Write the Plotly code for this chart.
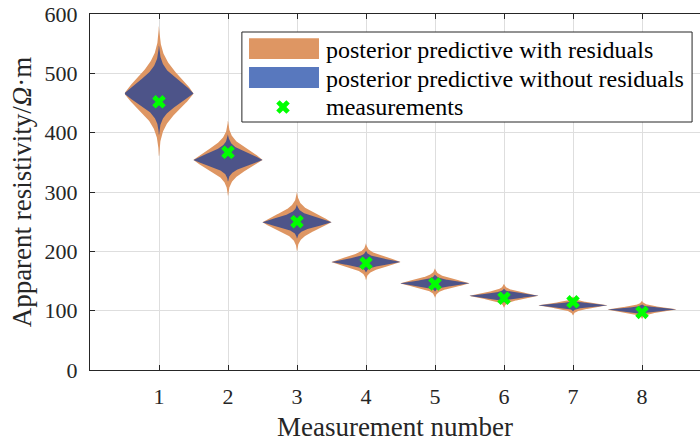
import numpy as np
import plotly.graph_objects as go

# ---------------- data ----------------
measurement_no = [1, 2, 3, 4, 5, 6, 7, 8]
mode_values = [466, 354, 249, 182, 146, 125, 109, 102]          # widest point of violins
resid_spread_up = [38, 22, 17, 10.5, 8.5, 6.8, 5.0, 4.9]         # with residuals, upper spread
resid_spread_down = [35, 20, 16, 10.0, 8.0, 6.6, 5.6, 5.2]      # with residuals, lower spread
noresid_spread_up = [27, 14.5, 10, 6.3, 5.0, 4.0, 3.0, 2.9]      # without residuals, upper spread
noresid_spread_down = [23, 12, 9, 5.8, 4.6, 3.7, 3.3, 3.1]       # without residuals, lower spread
measurements = [452, 367, 250, 180, 145, 121, 115, 97]

legend_labels = ["posterior predictive with residuals",
                 "posterior predictive without residuals",
                 "measurements"]

ORANGE = "rgb(222,150,99)"
BLUE = "rgba(2,50,156,0.66)"
GREEN = "#00FF00"
AXIS = "#262626"
GRID = "#DEDEDE"
FONT = "Liberation Serif"


def violin_outline(xc, c, s_up, s_dn, half_width=0.5, umax=3.0, n=90):
    u = np.linspace(0, umax, n)
    f = np.exp(-(0.35 * u + 0.45 * u ** 2)) * half_width
    ys = np.concatenate([(c - u * s_dn)[::-1], (c + u * s_up)[1:]])
    ws = np.concatenate([f[::-1], f[1:]])
    x = np.concatenate([xc + ws, (xc - ws)[::-1]])
    y = np.concatenate([ys, ys[::-1]])
    return x, y


fig = go.Figure()

for i, xc in enumerate(measurement_no):
    x, y = violin_outline(xc, mode_values[i], resid_spread_up[i], resid_spread_down[i])
    fig.add_trace(go.Scatter(x=x, y=y, fill="toself", fillcolor=ORANGE, mode="lines",
                             line=dict(width=0), showlegend=False, hoverinfo="skip"))
for i, xc in enumerate(measurement_no):
    x, y = violin_outline(xc, mode_values[i], noresid_spread_up[i], noresid_spread_down[i])
    fig.add_trace(go.Scatter(x=x, y=y, fill="toself", fillcolor=BLUE, mode="lines",
                             line=dict(width=0), showlegend=False, hoverinfo="skip"))

fig.add_trace(go.Scatter(x=measurement_no, y=measurements, mode="markers",
                         marker=dict(symbol="x", size=12, color=GREEN, line=dict(width=0)),
                         showlegend=False))

# ---------------- manual legend on an overlay axis (0..1) ----------------
box_x = [0.249, 0.987]
box_y = [0.6966, 0.9494]
fig.add_trace(go.Scatter(x=[box_x[0], box_x[1], box_x[1], box_x[0], box_x[0]],
                         y=[box_y[0], box_y[0], box_y[1], box_y[1], box_y[0]],
                         fill="toself", fillcolor="white", mode="lines",
                         line=dict(color=AXIS, width=1), xaxis="x2", yaxis="y2",
                         showlegend=False, hoverinfo="skip"))
sw_x = [0.2607, 0.3754]
for (y0, y1), col in [((0.8736, 0.9317), ORANGE), ((0.7921, 0.8511), BLUE)]:
    fig.add_trace(go.Scatter(x=[sw_x[0], sw_x[1], sw_x[1], sw_x[0], sw_x[0]],
                             y=[y0, y0, y1, y1, y0], fill="toself", fillcolor=col,
                             mode="lines", line=dict(width=0), xaxis="x2", yaxis="y2",
                             showlegend=False, hoverinfo="skip"))
fig.add_trace(go.Scatter(x=[0.3164], y=[0.7388], mode="markers",
                         marker=dict(symbol="x", size=12, color=GREEN, line=dict(width=0)),
                         xaxis="x2", yaxis="y2", showlegend=False, hoverinfo="skip"))
for txt, yy in zip(legend_labels, [0.8989, 0.8174, 0.7388]):
    fig.add_annotation(x=0.3836, y=yy, xref="paper", yref="paper", text=txt,
                       showarrow=False, xanchor="left", yanchor="middle",
                       font=dict(family=FONT, size=24, color="black"))

fig.update_layout(
    width=700, height=442,
    margin=dict(l=90, r=0, t=14, b=72),
    paper_bgcolor="white", plot_bgcolor="white",
    font=dict(family=FONT, color=AXIS),
    showlegend=False,
    xaxis=dict(range=[0, 610 / 69], tickvals=measurement_no, ticks="inside", ticklen=5,
               tickcolor=AXIS, showline=True, linecolor=AXIS, linewidth=1, mirror="ticks",
               showgrid=True, gridcolor=GRID, gridwidth=1, zeroline=False,
               ticklabelstandoff=7,
               tickfont=dict(size=22, family=FONT, color=AXIS),
               title=dict(text="Measurement number", font=dict(size=27, family=FONT, color=AXIS),
                          standoff=12)),
    yaxis=dict(range=[0, 600], dtick=100, ticks="inside", ticklen=5, tickcolor=AXIS,
               showline=True, linecolor=AXIS, linewidth=1, mirror=False,
               showgrid=True, gridcolor=GRID, gridwidth=1, zeroline=False,
               ticklabelstandoff=7,
               tickfont=dict(size=22, family=FONT, color=AXIS),
               title=dict(text="Apparent resistivity/<i>Ω</i>·m",
                          font=dict(size=27, family=FONT, color=AXIS), standoff=5)),
    xaxis2=dict(overlaying="x", range=[0, 1], visible=False, anchor="y2"),
    yaxis2=dict(overlaying="y", range=[0, 1], visible=False, anchor="x2"),
)

fig.write_html("out.html")
